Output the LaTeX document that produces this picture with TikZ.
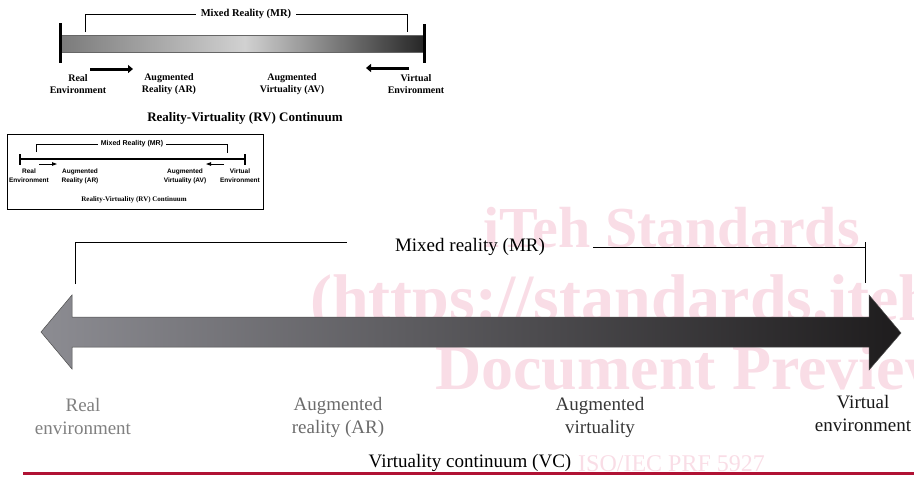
\documentclass[tikz,border=0pt]{standalone}
\usepackage{fontspec}
\setmainfont{Liberation Serif}
\newfontfamily\helv{Liberation Sans}
\usetikzlibrary{arrows.meta}
\definecolor{isored}{RGB}{176,18,52}
\definecolor{wmpink}{RGB}{249,221,230}
\definecolor{arrowL}{RGB}{140,140,146}
\definecolor{arrowR}{RGB}{30,28,29}

\begin{document}
\begin{tikzpicture}[x=1pt, y=-1pt,
  toplbl/.style={font=\fontsize{10}{12}\selectfont\bfseries, align=center, inner sep=0pt},
  insetlbl/.style={font=\helv\fontsize{6.5}{9}\selectfont\bfseries, align=center, inner sep=0pt},
  mainlbl/.style={font=\fontsize{19}{23}\selectfont, align=center, inner sep=0pt},
  wmark/.style={text=wmpink, inner sep=0pt, anchor=base west}]
\useasboundingbox (0,0) rectangle (914,477);

%watermark
\node[wmark, font=\fontsize{58}{58}\selectfont\bfseries] (wm1) at (483,247) {iTeh Standards};
\node[wmark, font=\fontsize{66}{66}\selectfont\bfseries] (wm2) at (310,320) {(https://standards.iteh.ai)};
\node[wmark, font=\fontsize{64}{64}\selectfont\bfseries] (wm3) at (435,389) {Document Preview};
\node[wmark, font=\fontsize{24}{24}\selectfont] (wm4) at (578,471) {ISO/IEC PRF 5927};

%top figure: RV continuum bar
\shade[left color=black!52, right color=black!18] (60,35) rectangle (245,52);
\shade[left color=black!18, right color=black!85] (245,35) rectangle (424,52);
\draw[black!60, line width=0.6pt] (60,35) -- (424,35) (60,52) -- (424,52);
\draw[line width=3pt] (60,23) -- (60,63);
\draw[line width=3pt] (424,24) -- (424,63);
\node[toplbl, font=\fontsize{10.5}{12}\selectfont\bfseries, inner xsep=5pt] (mrtop) at (246,14) {Mixed Reality (MR)};
\coordinate (mrtopL) at (85,32);
\coordinate (mrtopR) at (407,32);
\draw[line width=1pt] (mrtopL) |- (mrtop.west);
\draw[line width=1pt] (mrtop.east) -| (mrtopR);
\coordinate (arA) at (90,69);
\coordinate (arB) at (133,69);
\coordinate (avA) at (409,68);
\coordinate (avB) at (366,68);
\draw[line width=3pt, -{Triangle[length=5pt,width=8pt]}] (arA) -- (arB);
\draw[line width=3pt, -{Triangle[length=5pt,width=8pt]}] (avA) -- (avB);
\foreach \x/\n/\t in {78/tre/{Real\\Environment}, 169/tar/{Augmented\\Reality (AR)},
    292/tav/{Augmented\\Virtuality (AV)}, 416/tve/{Virtual\\Environment}}
  \node[toplbl] (\n) at (\x,84) {\t};
\node[font=\fontsize{13}{15}\selectfont\bfseries, inner sep=0pt] (tcap) at (245,118) {Reality-Virtuality (RV) Continuum};

%inset: original figure
\draw[line width=0.8pt] (7,134) rectangle (263,209);
\draw[line width=2pt] (20,159) -- (245,159);
\draw[line width=2pt] (20,154) -- (20,165);
\draw[line width=2pt] (245,154) -- (245,165);
\node[insetlbl, font=\helv\fontsize{7}{8}\selectfont\bfseries, inner xsep=3pt] (imr) at (132,144) {Mixed Reality (MR)};
\coordinate (imrL) at (36,152);
\coordinate (imrR) at (227,153);
\draw[line width=0.6pt] (imrL) |- (imr.west);
\draw[line width=0.6pt] (imr.east) -| (imrR);
\coordinate (iarA) at (39,164);
\coordinate (iarB) at (57,164);
\coordinate (iavA) at (224,164);
\coordinate (iavB) at (206,164);
\draw[line width=0.8pt, -{Triangle[length=5pt,width=3.5pt]}] (iarA) -- (iarB);
\draw[line width=0.8pt, -{Triangle[length=5pt,width=3.5pt]}] (iavA) -- (iavB);
\foreach \x/\n/\t in {29/ire/{Real\\Environment}, 80/iar/{Augmented\\Reality (AR)},
    185/iav/{Augmented\\Virtuality (AV)}, 240/ive/{Virtual\\Environment}}
  \node[insetlbl] (\n) at (\x,176) {\t};
\node[font=\fontsize{7}{8}\selectfont\bfseries, inner sep=0pt] (icap) at (134,200) {Reality-Virtuality (RV) Continuum};

%main figure: virtuality continuum
\shadedraw[left color=arrowL, right color=arrowR, draw=black!70, line width=0.5pt]
  (41,332) -- (72,295) -- (72,317) -- (869,317) -- (869,295) -- (901,333)
  -- (869,370) -- (869,347) -- (72,347) -- (72,369) -- cycle;
\node[mainlbl, inner xsep=48pt] (mr) at (470,247) {Mixed reality (MR)};
\coordinate (mrL) at (75,284);
\coordinate (mrR) at (865,283);
\draw[line width=1pt] (mrL) |- ([yshift=5pt]mr.west);
\draw[line width=1pt] (mr.east) -| ([yshift=5pt]mrR |- mr.east);
\draw[line width=1pt] ([yshift=5pt]mrR |- mr.east) -- (mrR);
\node[mainlbl, text=black!50] (re) at (83,416) {Real\\environment};
\node[mainlbl, text=black!58] (ar) at (338,417) {Augmented\\reality (AR)};
\node[mainlbl, text=black!78] (av) at (600,417) {Augmented\\virtuality};
\node[mainlbl, text=black!90] (ve) at (863,413) {Virtual\\environment};
\node[mainlbl] (vc) at (470,463) {Virtuality continuum (VC)};
\draw[isored, line width=3pt] (23,473) -- (914,473);
\end{tikzpicture}
\end{document}
